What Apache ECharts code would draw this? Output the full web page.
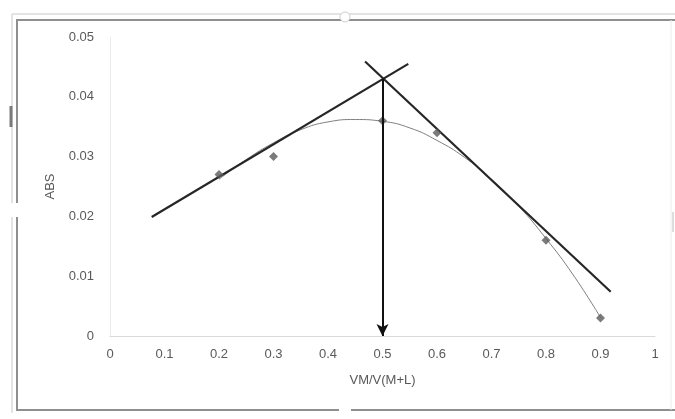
<!DOCTYPE html>
<html>
<head>
<meta charset="utf-8">
<script src="https://cdn.jsdelivr.net/npm/echarts@6/dist/echarts.min.js"></script>
<style>
html,body{margin:0;padding:0;background:#fff;}
#chart{width:675px;height:419px;}
</style>
</head>
<body>
<div id="chart"></div>
<script>
// Data
var xTickLabels = ['0','0.1','0.2','0.3','0.4','0.5','0.6','0.7','0.8','0.9','1'];
var yTickLabels = ['0','0.01','0.02','0.03','0.04','0.05'];
var pointX = [0.2, 0.3, 0.5, 0.6, 0.8, 0.9];
var pointY = [0.027, 0.030, 0.036, 0.034, 0.016, 0.003];
// trend line, read at every 0.05
var curveX = [0.2,0.25,0.3,0.35,0.4,0.45,0.5,0.55,0.6,0.65,0.7,0.75,0.8,0.85,0.9];
var curveY = [0.0262,0.0295,0.0323,0.0345,0.0358,0.0362,0.0359,0.0348,0.0327,0.0299,0.0262,0.0217,0.0163,0.0102,0.0031];
// tangent lines
var line1X = [0.0765, 0.5473];
var line1Y = [0.0199, 0.0455];
var line2X = [0.468, 0.9187];
var line2Y = [0.0459, 0.0074];
// arrow from the intersection down to the axis
var arrowX = [0.5, 0.5];
var arrowY = [0.043, 0];

function pairs(xs, ys){ return xs.map(function(x,i){ return [x, ys[i]]; }); }

var chart = echarts.init(document.getElementById('chart'), null, {renderer:'canvas'});
var font = '"Liberation Sans", Arial, sans-serif';
var labelColor = '#595959';

var option = {
  animation: false,
  backgroundColor: '#ffffff',
  grid: {left:110, right:20, top:37, bottom:83, containLabel:false},
  xAxis: {
    type:'value', min:0, max:1, interval:0.1,
    name:'VM/V(M+L)', nameLocation:'middle', nameGap:38,
    nameTextStyle:{color:labelColor, fontSize:13, fontFamily:font},
    axisLine:{show:true, lineStyle:{color:'#d9d9d9', width:1}},
    axisTick:{show:false},
    splitLine:{show:false},
    axisLabel:{color:labelColor, fontSize:13, fontFamily:font, margin:12,
      formatter:function(v){ return xTickLabels[Math.round(v*10)]; }}
  },
  yAxis: {
    type:'value', min:0, max:0.05, interval:0.01,
    name:'ABS', nameLocation:'middle', nameGap:53,
    nameTextStyle:{color:labelColor, fontSize:13, fontFamily:font},
    axisLine:{show:true, lineStyle:{color:'#ececec', width:1}},
    axisTick:{show:false},
    splitLine:{show:false},
    axisLabel:{color:labelColor, fontSize:13, fontFamily:font, margin:16,
      formatter:function(v){ return yTickLabels[Math.round(v*100)]; }}
  },
  series: [
    {
      type:'line', data: pairs(curveX, curveY), smooth:true, showSymbol:false,
      lineStyle:{color:'#808080', width:1}, silent:true, z:2
    },
    {
      type:'line', data: pairs(line1X, line1Y), showSymbol:false,
      lineStyle:{color:'#262626', width:2.2}, silent:true, z:3
    },
    {
      type:'line', data: pairs(line2X, line2Y), showSymbol:false,
      lineStyle:{color:'#262626', width:2.2}, silent:true, z:3
    },
    {
      type:'scatter', data: pairs(pointX, pointY), symbol:'diamond', symbolSize:9,
      itemStyle:{color:'#5a5a5a'}, silent:true, z:4
    },
    {
      type:'line', data:[], silent:true, z:5,
      markLine:{
        silent:true, animation:false,
        symbol:['none','arrow'], symbolSize:[9,12],
        label:{show:false},
        lineStyle:{color:'#111111', width:2, type:'solid'},
        emphasis:{disabled:true},
        data:[[{coord:[arrowX[0], arrowY[0]]},{coord:[arrowX[1], arrowY[1]]}]]
      }
    }
  ],
  graphic: [
    // outer light frame
    {type:'line', shape:{x1:12,y1:14,x2:675,y2:14}, style:{stroke:'#e3e3e3', lineWidth:2}, silent:true},
    {type:'line', shape:{x1:12,y1:14,x2:12,y2:413}, style:{stroke:'#e3e3e3', lineWidth:2}, silent:true},
    // darker frame
    {type:'line', shape:{x1:16,y1:20,x2:675,y2:20}, style:{stroke:'#8f8f8f', lineWidth:2}, silent:true},
    {type:'line', shape:{x1:17,y1:20,x2:17,y2:410}, style:{stroke:'#8f8f8f', lineWidth:2}, silent:true},
    {type:'line', shape:{x1:16,y1:410,x2:675,y2:410}, style:{stroke:'#8f8f8f', lineWidth:2}, silent:true},
    {type:'line', shape:{x1:671,y1:20,x2:671,y2:410}, style:{stroke:'#ececec', lineWidth:1}, silent:true},
    // handles
    {type:'rect', shape:{x:8,y:203,width:12,height:14}, style:{fill:'#ffffff'}, silent:true},
    {type:'rect', shape:{x:339,y:404,width:12,height:12}, style:{fill:'#ffffff'}, silent:true},
    {type:'circle', shape:{cx:345,cy:17,r:5}, style:{fill:'#ffffff', stroke:'#cfcfcf', lineWidth:1}, silent:true},
    {type:'line', shape:{x1:11,y1:106,x2:11,y2:127}, style:{stroke:'#7a7a7a', lineWidth:3}, silent:true},
    {type:'line', shape:{x1:673,y1:212,x2:673,y2:232}, style:{stroke:'#dddddd', lineWidth:2}, silent:true}
  ]
};
chart.setOption(option);
</script>
</body>
</html>
